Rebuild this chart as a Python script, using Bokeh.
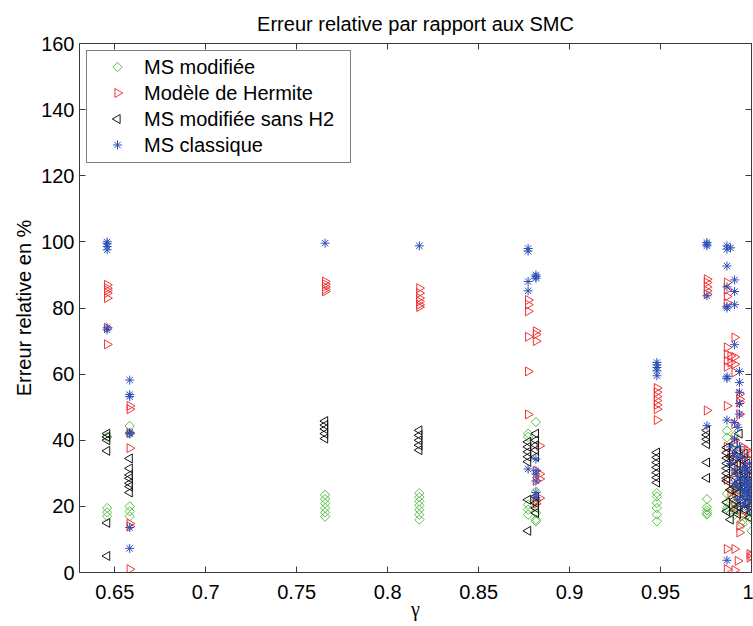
import math
from bokeh.plotting import figure
from bokeh.models import Range1d, FixedTicker, LinearAxis, CustomJSTickFormatter, Legend
from bokeh.embed import file_html
from bokeh.resources import INLINE

# ---------------- data ----------------
gammas = [0.6458, 0.6582, 0.7656, 0.8174, 0.8772, 0.8815, 0.8835, 0.948, 0.9755,
          0.9865, 0.9885, 0.9907, 0.9925, 0.9934, 0.995, 0.9962, 0.9975, 0.999, 1.0]

err_ms_mod = [
    [41, 19.5, 18.2, 17],
    [44.3, 42, 20, 18.5, 17],
    [23.5, 22.2, 20.9, 19.5, 18.2, 16.9],
    [24, 22.8, 21.5, 20.3, 19, 17.5, 16],
    [42, 41, 20.5, 19, 17.5],
    [45.5, 24.5, 22, 18, 16, 15.5],
    [],
    [24, 23, 21, 19.5, 17.5, 15.5],
    [22.2, 19.7, 18.8, 18, 17.5],
    [42.9, 40.8, 23.8, 21.2, 19.5, 18.8],
    [25, 22, 18],
    [41.4, 24, 21, 17.5],
    [23, 19],
    [20],
    [26, 22, 18, 15.6, 14.6],
    [],
    [],
    [24, 20, 17],
    [22, 18, 16, 12.6],
]

err_hermite = [
    [87, 86, 85.3, 84.5, 83, 74, 69],
    [50.4, 49.4, 42.2, 37.6, 14.8, 13.9, 1],
    [88, 87.2, 86.4, 85.6, 85],
    [86, 84.5, 83, 82, 81, 80.3],
    [82.4, 81, 79, 71.3, 60.8, 47.8],
    [73, 72, 70, 30.8, 27.7, 21.7, 20.8],
    [38.3, 29.8, 28.3, 22.5],
    [55.8, 54.5, 53.2, 52, 50.7, 49.4, 46.1],
    [88.7, 87.7, 86.4, 85.2, 84.2, 49],
    [87.7, 85.5, 83.5, 81.5, 68.1, 66.0, 64.0, 62.2, 50.4, 38, 28, 7.1, 1.0],
    [65.5, 63.5, 36, 24],
    [71.1, 65.2, 63.0, 60.5, 44.9, 40, 34, 30, 25, 20, 7.1, 0.7],
    [36, 31, 23, 3.5],
    [54.0, 52.4, 51.4, 47.9, 14.1, 12.1],
    [38, 33, 27, 22, 17],
    [35, 29, 24, 19],
    [37, 31, 26, 21],
    [34, 28, 23, 5.6, 4.5],
    [36, 30, 25, 20, 5],
]

err_ms_mod_sans_h2 = [
    [42, 41, 40, 36.8, 15, 5],
    [34.5, 31.5, 29.5, 28.5, 27, 26, 24.2],
    [45.8, 44.6, 43.4, 42, 40.5],
    [43, 41.5, 40, 38.5, 37],
    [39.5, 38, 36.5, 35, 33.5, 22, 12.6],
    [42, 40, 38.5, 37, 35, 23, 21, 19.5, 18],
    [],
    [36.3, 34.8, 33.3, 31.8, 30.2, 28.7, 27.2],
    [43, 41.6, 40.3, 38.8, 33.3, 28.6],
    [37.8, 36.2, 34.6, 33.0, 31.5, 30.0, 28.5, 27.7, 21.2, 18.5],
    [35, 25, 16],
    [39, 35, 32, 29, 26, 22, 19],
    [37, 33, 30, 27, 24, 20, 17.7],
    [42, 26],
    [34, 31, 28, 25, 21],
    [36, 30, 26, 23, 19],
    [33, 29, 25, 21],
    [31, 27, 24, 20, 16.6],
    [28, 25, 22, 18],
]

err_ms_classique = [
    [100, 99.4, 98.6, 97.6, 74, 73.4],
    [58.2, 53.8, 53.2, 42.4, 42, 13.6, 7.3],
    [99.6],
    [98.8],
    [98, 97.2, 88, 85.2, 31.3],
    [90, 89.5, 89, 34.3, 30.8, 29.8, 27.7, 24.2, 22.7],
    [],
    [63.5, 62.8, 62, 61, 59.5],
    [99.8, 99.3, 98.8, 83.7, 44.4],
    [98.8, 97.8, 92.7, 86.4, 80.5, 80.0, 59.2, 58.7, 46.1, 3.7],
    [98.2, 38, 33],
    [88.5, 85.0, 81.0, 68.9, 45.4, 40.4, 36, 31, 27],
    [43.9, 35, 29, 26, 22],
    [60.8, 57.5, 54.5, 51.1, 47.9, 38],
    [34.8, 31, 28, 25, 23, 20],
    [31.8, 29, 27, 24.2, 21],
    [30.8, 27, 25, 23],
    [33, 28, 26, 24, 22, 19],
    [30, 27, 25, 23, 21],
]

series_labels = ["MS modifiée", "Modèle de Hermite", "MS modifiée sans H2", "MS classique"]

x_ticks = [0.65, 0.7, 0.75, 0.8, 0.85, 0.9, 0.95, 1.0]
x_tick_labels = ["0.65", "0.7", "0.75", "0.8", "0.85", "0.9", "0.95", "1"]
y_ticks = [0, 20, 40, 60, 80, 100, 120, 140, 160]


def flatten(groups):
    xs, ys = [], []
    for g, vals in zip(gammas, groups):
        for v in vals:
            xs.append(g)
            ys.append(v)
    return xs, ys


FONT = "Liberation Sans"
FRAME_W, FRAME_H = 672, 529

p = figure(width=753, height=626, output_backend="svg", toolbar_location=None,
           x_range=Range1d(0.6306, 1.0), y_range=Range1d(0, 160),
           min_border_left=79, min_border_right=2, min_border_top=43, min_border_bottom=54)
p.xgrid.visible = False
p.ygrid.visible = False
p.outline_line_color = None

p.title.text = "Erreur relative par rapport aux SMC"
p.title.align = "center"
p.title.text_font = FONT
p.title.text_font_size = "20px"
p.title.text_font_style = "normal"
p.title.text_color = "black"
p.title.standoff = 18

AX_COLOR = "#3a3a3a"

xa = p.below[0]
ya = p.left[0]

xa.ticker = FixedTicker(ticks=x_ticks)
xa.major_label_overrides = {t: l for t, l in zip(x_ticks, x_tick_labels)}
xa.axis_label = "γ"
xa.axis_label_text_font = "Liberation Serif"
xa.axis_label_text_font_style = "normal"
xa.axis_label_text_font_size = "20px"
xa.axis_label_standoff = -4
xa.major_label_standoff = 12

ya.ticker = FixedTicker(ticks=y_ticks)
ya.axis_label = "Erreur relative en %"
ya.axis_label_text_font = FONT
ya.axis_label_text_font_style = "normal"
ya.axis_label_text_font_size = "20px"
ya.axis_label_standoff = 3
ya.major_label_standoff = 5

for ax in (xa, ya):
    ax.major_tick_in = 6
    ax.major_tick_out = 0
    ax.minor_tick_line_color = None
    ax.major_label_text_font = FONT
    ax.major_label_text_font_size = "20px"
    ax.major_label_text_color = "black"
    ax.axis_label_text_color = "black"
    ax.axis_line_color = AX_COLOR
    ax.major_tick_line_color = AX_COLOR

# top and right box axes (ticks only)
top = LinearAxis(ticker=FixedTicker(ticks=x_ticks),
                 formatter=CustomJSTickFormatter(code="return ''"))
right = LinearAxis(ticker=FixedTicker(ticks=y_ticks),
                   formatter=CustomJSTickFormatter(code="return ''"))
for ax in (top, right):
    ax.major_tick_in = 6
    ax.major_tick_out = 0
    ax.minor_tick_line_color = None
    ax.major_label_standoff = 0
    ax.axis_line_color = AX_COLOR
    ax.major_tick_line_color = AX_COLOR
p.add_layout(top, "above")
p.add_layout(right, "right")

GREEN = "#5cc04a"
RED = "#f23434"
BLACK = "#151515"
BLUE = "#2b4fb8"

styles = [
    dict(marker="square", angle=math.pi / 4, size=6.6, fill_color=None, line_color=GREEN, line_width=1),
    dict(marker="triangle", angle=-math.pi / 2, size=9, fill_color=None, line_color=RED, line_width=1),
    dict(marker="triangle", angle=math.pi / 2, size=9, fill_color=None, line_color=BLACK, line_width=1),
    dict(marker="asterisk", size=9, line_color=BLUE, line_width=1),
]

for groups, st in zip([err_ms_mod, err_hermite, err_ms_mod_sans_h2, err_ms_classique], styles):
    x, y = flatten(groups)
    p.scatter(x, y, **st)

# ---------------- legend ----------------
LEG_MARGIN, LEG_PAD, LEG_SPACING = 7, 5, 3
GLYPH_W, ITEM_H = 52, 23

dummies = []
for st in styles:
    dummies.append(p.scatter([], [], marker="circle", size=1, line_alpha=0, fill_alpha=0))

legend = Legend(items=[(lab, [d]) for lab, d in zip(series_labels, dummies)],
                location="top_left", margin=LEG_MARGIN, padding=LEG_PAD, spacing=LEG_SPACING,
                glyph_width=GLYPH_W, glyph_height=ITEM_H, label_height=ITEM_H, label_width=201,
                label_standoff=0, border_line_color="black", border_line_width=1,
                background_fill_alpha=0, label_text_color="black",
                label_text_font=FONT, label_text_font_size="20px")
p.add_layout(legend, "center")

# legend keys drawn in frame-pixel coordinates so that the markers can be rotated
p.extra_x_ranges = {"frame_px": Range1d(0, FRAME_W)}
p.extra_y_ranges = {"frame_py": Range1d(FRAME_H, 0)}
key_x = LEG_MARGIN + LEG_PAD + GLYPH_W / 2
for i, st in enumerate(styles):
    key_y = LEG_MARGIN + LEG_PAD + i * (ITEM_H + LEG_SPACING) + ITEM_H / 2
    p.scatter(x=[key_x], y=[key_y], x_range_name="frame_px", y_range_name="frame_py", **st)

open("out.html", "w").write(file_html(p, INLINE))
